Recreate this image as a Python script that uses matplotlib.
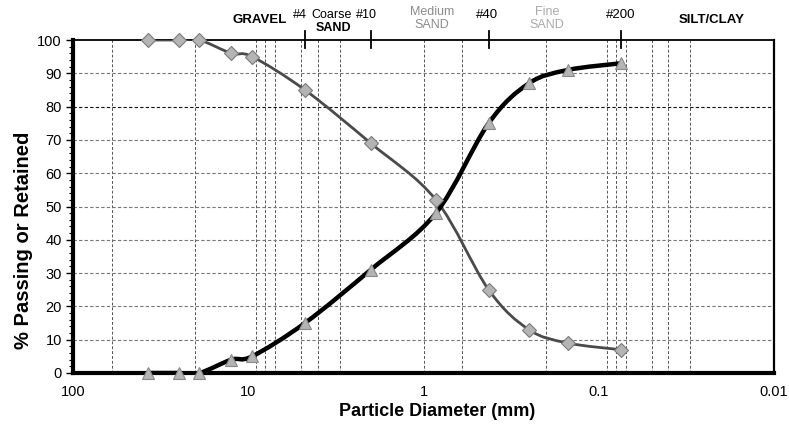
import numpy as np
import matplotlib.pyplot as plt
from matplotlib.path import Path
from matplotlib.patches import PathPatch
from matplotlib.ticker import FixedLocator, MultipleLocator, NullLocator

plt.rcParams['font.family'] = ['Liberation Sans', 'DejaVu Sans']

# sieve sizes (mm) and results
diameter = [37.5, 25, 19, 12.5, 9.5, 4.75, 2.0, 0.85, 0.425, 0.25, 0.15, 0.075]
passing = [100, 100, 100, 96, 95, 85, 69, 52, 25, 13, 9, 7]
retained = [0, 0, 0, 4, 5, 15, 31, 48, 75, 87, 91, 93]

x_ticks = [100, 10, 1, 0.1, 0.01]
x_tick_labels = ['100', '10', '1', '0.1', '0.01']
v_grid = [60, 20, 9, 8, 7, 5, 4, 3, 1, 0.6, 0.2, 0.09, 0.08, 0.07, 0.05, 0.04, 0.03]
sieve_marks = [4.75, 2.0, 0.425, 0.075]


def smooth_path(xs, ys):
    """Excel style smoothed line as a bezier path, built in log-x space."""
    lx = np.log10(xs)
    ys = np.asarray(ys, dtype=float)
    n = len(lx)
    verts = [(xs[0], ys[0])]
    codes = [Path.MOVETO]
    for i in range(n - 1):
        p0 = max(i - 1, 0)
        p3 = min(i + 2, n - 1)
        c1 = (lx[i] + (lx[i + 1] - lx[p0]) / 6, ys[i] + (ys[i + 1] - ys[p0]) / 6)
        c2 = (lx[i + 1] - (lx[p3] - lx[i]) / 6, ys[i + 1] - (ys[p3] - ys[i]) / 6)
        verts += [(10 ** c1[0], c1[1]), (10 ** c2[0], c2[1]), (xs[i + 1], ys[i + 1])]
        codes += [Path.CURVE4] * 3
    return Path(verts, codes)


fig = plt.figure(figsize=(7.89, 4.24), dpi=100)
ax = fig.add_axes([73 / 789, 1 - 373 / 424, 701 / 789, 333 / 424])
ax.set_xscale('log')
ax.set_xlim(100, 0.01)
ax.set_ylim(0, 100)

# grid
for v in v_grid:
    ax.axvline(v, color='#555555', lw=0.7, ls=(0, (3, 2)), zorder=1)
for h in range(10, 100, 10):
    c = '#111111' if h == 80 else '#777777'
    ax.axhline(h, color=c, lw=0.8, ls=(0, (3, 2)), zorder=1)

# curves
ax.add_patch(PathPatch(smooth_path(diameter, passing), fill=False,
                       edgecolor='#4a4a4a', lw=2.0, zorder=3))
ax.add_patch(PathPatch(smooth_path(diameter, retained), fill=False,
                       edgecolor='black', lw=3.2, zorder=3))
ax.plot(diameter, passing, ls='none', marker='D', ms=7, mfc='#b4b4b4',
        mec='#7a7a7a', mew=0.8, zorder=4, clip_on=False)
ax.plot(diameter, retained, ls='none', marker='^', ms=8.5, mfc='#b4b4b4',
        mec='#8a8a8a', mew=0.8, zorder=4, clip_on=False)

# sieve marks on top
for s in sieve_marks:
    ax.plot([s, s], [1 - 8 / 333, 1 + 9 / 333], color='black', lw=1.3,
            transform=ax.get_xaxis_transform(), clip_on=False, zorder=5)

# axes
ax.spines['left'].set_linewidth(3)
ax.spines['bottom'].set_linewidth(3)
ax.spines['top'].set_linewidth(1.3)
ax.spines['right'].set_linewidth(1.6)
ax.xaxis.set_major_locator(FixedLocator(x_ticks))
ax.xaxis.set_minor_locator(NullLocator())
ax.set_xticklabels(x_tick_labels)
ax.tick_params(axis='x', length=0, pad=9, labelsize=10.5)
ax.yaxis.set_major_locator(MultipleLocator(10))
ax.yaxis.set_minor_locator(MultipleLocator(2))
ax.tick_params(axis='y', which='major', length=5, width=1, pad=3, labelsize=10.5)
ax.tick_params(axis='y', which='minor', length=3, width=0.8)

fig.text(437 / 789, 1 - 411 / 424, 'Particle Diameter (mm)', ha='center',
         va='center', fontsize=13, fontweight='bold')
fig.text(24 / 789, 1 - 240 / 424, '% Passing or Retained', ha='center',
         va='center', rotation=90, fontsize=14.5, fontweight='bold')

# soil class labels
def label(px, py, s, size=9.5, **kw):
    fig.text(px / 789, 1 - py / 424, s, ha='center', va='center', fontsize=size, **kw)


label(260, 20, 'GRAVEL', fontweight='bold')
label(300, 15, '#4', size=9)
label(332, 15, 'Coarse', size=9)
label(366, 15, '#10', size=9)
label(333, 28, 'SAND', fontweight='bold', size=9)
label(432, 12, 'Medium', color='#8c8c8c', size=9)
label(432, 25, 'SAND', color='#8c8c8c', size=9)
label(487, 15, '#40')
label(547, 12, 'Fine', color='#aaaaaa', size=9)
label(547, 25, 'SAND', color='#aaaaaa', size=9)
label(621, 15, '#200')
label(712, 20, 'SILT/CLAY', fontweight='bold')

fig.savefig('out.png', dpi=100)
